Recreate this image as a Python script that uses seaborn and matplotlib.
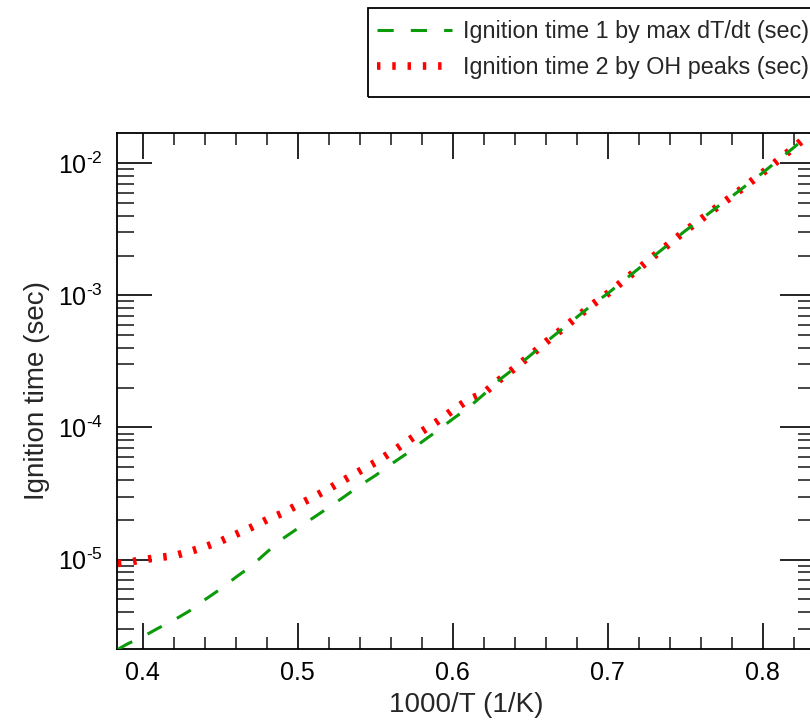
import matplotlib
matplotlib.use("Agg")
import matplotlib.pyplot as plt
import seaborn as sns
import pandas as pd
import math
from matplotlib.patches import Rectangle
from matplotlib.ticker import LogLocator, FixedLocator, MultipleLocator, FuncFormatter, NullFormatter

# ---- data ----
inv_T = [0.384, 0.39, 0.40, 0.41, 0.42, 0.43, 0.44, 0.45, 0.46, 0.47, 0.48, 0.49,
         0.50, 0.51, 0.52, 0.53, 0.54, 0.55, 0.56, 0.57, 0.58, 0.59, 0.60, 0.61,
         0.62, 0.63, 0.64, 0.65, 0.66, 0.67, 0.68, 0.69, 0.70, 0.71, 0.72, 0.73,
         0.74, 0.75, 0.76, 0.77, 0.78, 0.79, 0.80, 0.81, 0.82, 0.83, 0.835]
tau_dTdt = [2.09e-6, 2.29e-6, 2.60e-6, 3.02e-6, 3.47e-6, 4.07e-6, 4.95e-6, 5.96e-6,
            7.33e-6, 8.91e-6, 1.135e-5, 1.43e-5, 1.72e-5, 2.07e-5, 2.48e-5, 2.99e-5,
            3.63e-5, 4.32e-5, 5.25e-5, 6.31e-5, 7.76e-5, 9.44e-5, 1.16e-4, 1.41e-4,
            1.78e-4, 2.29e-4, 2.82e-4, 3.51e-4, 4.42e-4, 5.50e-4, 6.84e-4, 8.51e-4,
            1.035e-3, 1.29e-3, 1.60e-3, 2.00e-3, 2.48e-3, 3.09e-3, 3.76e-3, 4.62e-3,
            5.62e-3, 6.92e-3, 8.51e-3, 1.06e-2, 1.32e-2, 1.66e-2, 1.86e-2]
tau_OH = [9.33e-6, 9.51e-6, 9.95e-6, 1.035e-5, 1.067e-5, 1.148e-5, 1.245e-5, 1.374e-5,
          1.55e-5, 1.75e-5, 2.00e-5, 2.24e-5, 2.59e-5, 2.97e-5, 3.43e-5, 4.01e-5,
          4.68e-5, 5.43e-5, 6.46e-5, 7.76e-5, 9.33e-5, 1.11e-4, 1.35e-4, 1.62e-4,
          1.82e-4, 2.29e-4, 2.82e-4, 3.51e-4, 4.42e-4, 5.50e-4, 6.84e-4, 8.51e-4,
          1.035e-3, 1.29e-3, 1.60e-3, 2.00e-3, 2.48e-3, 3.09e-3, 3.76e-3, 4.62e-3,
          5.62e-3, 6.92e-3, 8.51e-3, 1.06e-2, 1.32e-2, 1.66e-2, 1.86e-2]
labels = ["Ignition time 1 by max dT/dt (sec)", "Ignition time 2 by OH peaks (sec)"]
x_major = [0.4, 0.5, 0.6, 0.7, 0.8]

sns.set_style("ticks")
plt.rcParams['font.family'] = ['Liberation Sans', 'DejaVu Sans']
plt.rcParams['mathtext.fontset'] = 'custom'
plt.rcParams['mathtext.rm'] = 'Liberation Sans'
plt.rcParams['mathtext.it'] = 'Liberation Sans'
plt.rcParams['mathtext.default'] = 'regular'

df = pd.DataFrame({"x": inv_T, "t1": tau_dTdt, "t2": tau_OH})

W, H = 810, 725
fig = plt.figure(figsize=(8.1, 7.25), dpi=100)
ax = fig.add_axes([117/W, 1 - 649/H, (815 - 117)/W, (649 - 133)/H])

sns.lineplot(data=df, x="x", y="t2", ax=ax, color="#ff0000", linewidth=5.5,
             linestyle=(0, (0.45, 1.55)), label=labels[1], zorder=2)
sns.lineplot(data=df, x="x", y="t1", ax=ax, color="#0a9a0a", linewidth=2.2,
             linestyle=(0, (5.3, 5.6)), label=labels[0], zorder=3)

ax.set_yscale("log")
ax.set_xlim(0.3834, 0.8337)
ax.set_ylim(2.1e-6, 1.7e-2)


def pow_fmt(v, p):
    n = int(round(math.log10(v)))
    return r"$10^{\text{" + ("-" if n < 0 else "") + str(abs(n)) + "}}$"


ax.xaxis.set_major_locator(FixedLocator(x_major))
ax.xaxis.set_minor_locator(MultipleLocator(0.02))
ax.yaxis.set_major_locator(LogLocator(base=10, numticks=20))
ax.yaxis.set_minor_locator(LogLocator(base=10, subs=[2, 3, 4, 5, 6, 7, 8, 9], numticks=20))
ax.yaxis.set_major_formatter(FuncFormatter(pow_fmt))
ax.yaxis.set_minor_formatter(NullFormatter())
ax.xaxis.set_major_formatter(FuncFormatter(lambda v, p: f"{v:.1f}"))

for s in ax.spines.values():
    s.set_linewidth(1.3)
    s.set_color("black")
    s.set_visible(True)

ax.tick_params(axis="x", which="major", direction="in", length=18.5, width=1.2,
               top=True, bottom=True, labelsize=18, pad=9, colors="black")
ax.tick_params(axis="x", which="minor", direction="in", length=8.5, width=1.2,
               top=True, bottom=True)
ax.tick_params(axis="y", which="major", direction="in", length=25, width=1.2,
               left=True, right=True, labelsize=18, pad=10, colors="black")
ax.tick_params(axis="y", which="minor", direction="in", length=12.5, width=1.2,
               left=True, right=True)

ax.set_xlabel("1000/T (1/K)", fontsize=20, labelpad=5)
ax.set_ylabel("Ignition time (sec)", fontsize=20)
ax.yaxis.set_label_coords((50 - 117) / (815 - 117), 0.5)
ax.grid(False)

handles, labs = ax.get_legend_handles_labels()
order = [labs.index(labels[0]), labs.index(labels[1])]
ax.get_legend().remove()
leg = fig.legend([handles[i] for i in order], [labs[i] for i in order],
                 loc="upper left", bbox_to_anchor=(377/W, 1 - 20/H),
                 fontsize=16.8, frameon=False, borderpad=0, handlelength=3.2,
                 handletextpad=0.47, labelspacing=0.55, borderaxespad=0)
fig.patches.append(Rectangle((368/W, 1 - 97/H), (830 - 368)/W, (97 - 8)/H,
                             transform=fig.transFigure, fill=False,
                             edgecolor="black", linewidth=1.3))

fig.savefig("out.png", dpi=100)
